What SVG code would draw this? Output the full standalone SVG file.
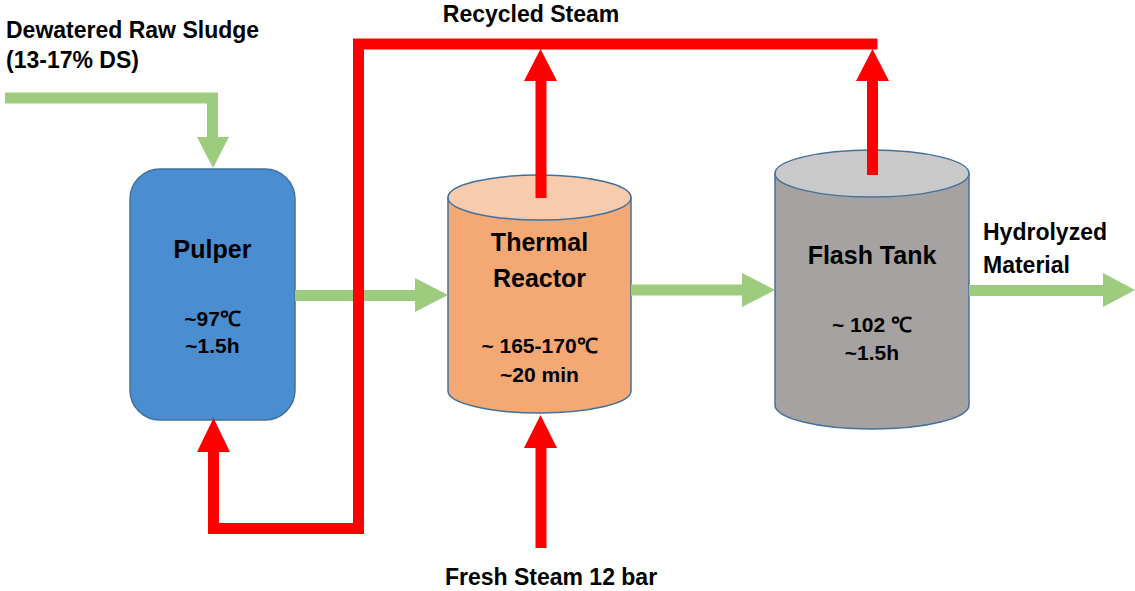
<svg xmlns="http://www.w3.org/2000/svg" width="1135" height="591" viewBox="0 0 1135 591">
<style>
text{font-family:"Liberation Sans",Arial,sans-serif;font-weight:bold;fill:#000}
.title{font-size:25px;text-anchor:middle}
.small{font-size:21px;text-anchor:middle}
.label{font-size:23px}
.outline{stroke:#41719C;stroke-width:1.5}
.green{stroke:#9DCC7F;stroke-width:11;fill:none}
.greenhead{fill:#9DCC7F}
.red{stroke:#FF0000;stroke-width:11;fill:none;stroke-linejoin:miter}
.redhead{fill:#FF0000}
</style>
<rect width="1135" height="591" fill="#FFFFFF"/>
<g id="pulper">
<rect class="outline" x="130" y="169" width="165" height="251" rx="30" ry="30" fill="#4B8DD1"/>
<text class="title" x="212.5" y="258">Pulper</text>
<text class="small" x="212.5" y="326">~97℃</text>
<text class="small" x="212.5" y="353">~1.5h</text>
</g>
<g id="thermal-reactor">
<path class="outline" d="M448,197.5 V391 A91.5,22 0 0 0 631,391 V197.5 Z" fill="#F4A873"/>
<ellipse class="outline" cx="539.5" cy="197.5" rx="91.5" ry="22.5" fill="#F8CBAD"/>
<text class="title" x="539.5" y="251">Thermal</text>
<text class="title" x="539.5" y="287">Reactor</text>
<text class="small" x="539.5" y="353">~ 165-170℃</text>
<text class="small" x="539.5" y="382">~20 min</text>
</g>
<g id="flash-tank">
<path class="outline" d="M775,173.5 V405 A97,24 0 0 0 969,405 V173.5 Z" fill="#A6A2A1"/>
<ellipse class="outline" cx="872" cy="173.5" rx="97" ry="23.5" fill="#C9C9C9"/>
<text class="title" x="872" y="264">Flash Tank</text>
<text class="small" x="872" y="332">~ 102 ℃</text>
<text class="small" x="872" y="360">~1.5h</text>
</g>
<g id="labels">
<text class="label" x="6" y="38">Dewatered Raw Sludge</text>
<text class="label" x="6" y="68">(13-17% DS)</text>
<text class="label" x="531" y="22" text-anchor="middle">Recycled Steam</text>
<text class="label" x="551" y="585" text-anchor="middle">Fresh Steam 12 bar</text>
<text class="label" x="983" y="240">Hydrolyzed</text>
<text class="label" x="983" y="273">Material</text>
</g>
<g id="connectors">
<path class="green" d="M5,98 H212.5 V138"/>
<polygon class="greenhead" points="197,137 229,137 213,168"/>
<path class="green" d="M295,295.5 H416"/>
<polygon class="greenhead" points="415,278 415,312 448,295"/>
<path class="green" d="M631,290 H743"/>
<polygon class="greenhead" points="742,273 742,307 775,290"/>
<path class="green" d="M969,290.5 H1104"/>
<polygon class="greenhead" points="1103,273 1103,307 1135,290"/>
<path class="red" d="M213.5,451 V528.5 H358.5 V44 H877.5"/>
<polygon class="redhead" points="197,452 230,452 213.5,418"/>
<path class="red" d="M541,198 V80"/>
<polygon class="redhead" points="524,81 557,81 540.5,49"/>
<path class="red" d="M872.5,175 V80"/>
<polygon class="redhead" points="856,81 889,81 872.5,49"/>
<path class="red" d="M541,548 V447"/>
<polygon class="redhead" points="524,448 557,448 540.5,415"/>
</g>
</svg>
